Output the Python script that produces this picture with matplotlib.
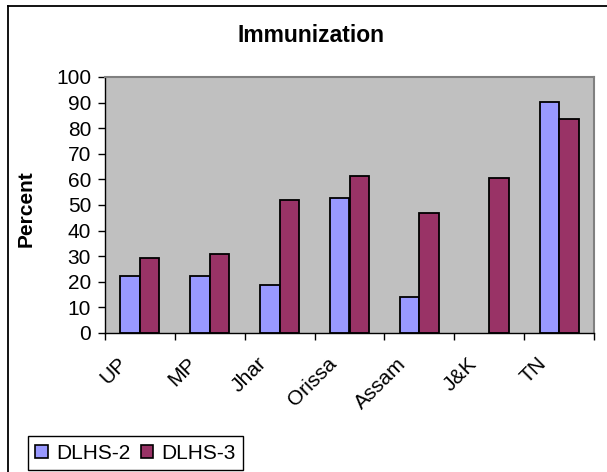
import numpy as np
import matplotlib
matplotlib.use("Agg")
import matplotlib.pyplot as plt
from matplotlib.lines import Line2D
from matplotlib.patches import Patch
import matplotlib.transforms as mtransforms

states = ["UP", "MP", "Jhar", "Orissa", "Assam", "J&K", "TN"]
dlhs2 = [22.4, 22.4, 18.8, 52.7, 14.2, np.nan, 90.4]
dlhs3 = [29.3, 30.9, 52.0, 61.2, 46.7, 60.4, 83.6]

blue = "#9999FF"
maroon = "#993366"

plt.rcParams["font.family"] = ["Liberation Sans", "DejaVu Sans"]
fs = 15

fig = plt.figure(figsize=(6.07, 4.72), dpi=100)
ax = fig.add_axes([105/607, 1 - 333/472, (594 - 105)/607, (333 - 77)/472])
ax.set_facecolor("#C0C0C0")

x = np.arange(len(states))
w = 0.28
ax.bar(x - w/2, dlhs2, w, color=blue, edgecolor="black", linewidth=1.3, label="DLHS-2")
ax.bar(x + w/2, dlhs3, w, color=maroon, edgecolor="black", linewidth=1.3, label="DLHS-3")

ax.set_xlim(-0.5, len(states) - 0.5)
ax.set_ylim(0, 100)
ax.set_yticks(np.arange(0, 101, 10))
ax.tick_params(axis="y", labelsize=fs, length=5, width=1, pad=5, direction="out")

# ticks on category boundaries, labels at centres
ax.set_xticks(np.arange(-0.5, len(states), 1))
ax.set_xticklabels([])
ax.tick_params(axis="x", which="major", length=5, width=1, direction="out")
ax.set_xticks(x, minor=True)
ax.set_xticklabels(states, minor=True, rotation=45, ha="right", va="top", fontsize=fs)
ax.tick_params(axis="x", which="minor", length=0, pad=15)
offset = mtransforms.ScaledTranslation(-9/100, 0, fig.dpi_scale_trans)
for lab in ax.get_xticklabels(minor=True):
    lab.set_transform(lab.get_transform() + offset)

for s in ["top", "right"]:
    ax.spines[s].set_color("#808080")
    ax.spines[s].set_linewidth(1.5)
for s in ["left", "bottom"]:
    ax.spines[s].set_color("black")
    ax.spines[s].set_linewidth(1)

fig.text(311/607, 1 - 35/472, "Immunization", ha="center", va="center",
         fontsize=16.5, fontweight="bold")
fig.text(26/607, 1 - 209/472, "Percent", ha="center", va="center",
         rotation=90, fontsize=fs, fontweight="bold")

handles = [Patch(facecolor=blue, edgecolor="black", linewidth=1.2),
           Patch(facecolor=maroon, edgecolor="black", linewidth=1.2)]
leg = fig.legend(handles, ["DLHS-2", "DLHS-3"], loc="lower left",
                 bbox_to_anchor=(28/607, 2/472), ncol=2, fontsize=fs,
                 handlelength=0.6, handleheight=0.6, handletextpad=0.4,
                 columnspacing=0.5, borderpad=0.35, borderaxespad=0,
                 fancybox=False, framealpha=1)
leg.get_frame().set_edgecolor("black")
leg.get_frame().set_linewidth(1)

# outer chart frame
fig.add_artist(Line2D([8/607, 8/607], [0, 1 - 6/472], color="black", lw=1.3))
fig.add_artist(Line2D([8/607, 1], [1 - 6/472, 1 - 6/472], color="black", lw=1.3))

fig.savefig("out.png", dpi=100)
